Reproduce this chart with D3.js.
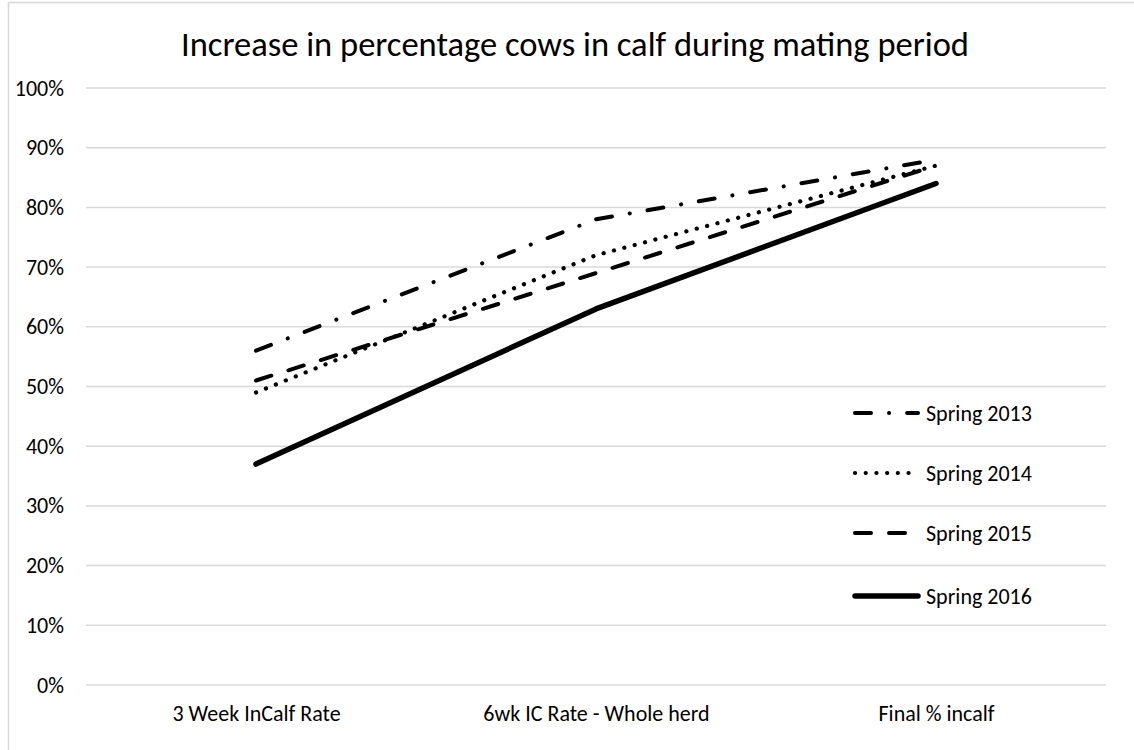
<!DOCTYPE html>
<html>
<head>
<meta charset="utf-8">
<script src="https://cdn.jsdelivr.net/npm/d3@7/dist/d3.min.js"></script>
<style>
  html, body { margin: 0; padding: 0; background: #fff; }
  svg { display: block; }
  text { font-family: Carlito, Lato, "Open Sans", sans-serif; fill: #000; }
</style>
</head>
<body>
<svg id="chart" width="1134" height="750"></svg>
<script>
// Stages of the mating period
const categories = ["3 Week InCalf Rate", "6wk IC Rate - Whole herd", "Final % incalf"];

// Percentage of cows in calf at each stage
const spring2013 = [56, 78, 88];
const spring2014 = [49, 72, 87];
const spring2015 = [51, 69, 87];
const spring2016 = [37, 63, 84];

const seriesNames = ["Spring 2013", "Spring 2014", "Spring 2015", "Spring 2016"];
const yTicks = [0, 10, 20, 30, 40, 50, 60, 70, 80, 90, 100];

const series = [
  { name: seriesNames[0], values: spring2013, width: 4, cap: "round", dash: "16 18 0.1 18" },
  { name: seriesNames[1], values: spring2014, width: 4.2, cap: "round", dash: "0.1 10.6" },
  { name: seriesNames[2], values: spring2015, width: 4, cap: "round", dash: "16 18" },
  { name: seriesNames[3], values: spring2016, width: 5.5, cap: "round", dash: null }
];

const labelFont = "Carlito, Lato, 'Open Sans', sans-serif";
const svg = d3.select("#chart");

// Chart frame
svg.append("rect")
  .attr("x", 8.5).attr("y", 2.5)
  .attr("width", 1200).attr("height", 800)
  .attr("fill", "none").attr("stroke", "#d9d9d9").attr("stroke-width", 1.5);

const plot = { left: 86, right: 1106, top: 88, bottom: 685 };

const x = d3.scalePoint().domain(categories).range([plot.left, plot.right]).padding(0.5);
const y = d3.scaleLinear().domain([0, 100]).range([plot.bottom, plot.top]);

// Title
svg.append("text")
  .attr("x", 575).attr("y", 56)
  .attr("text-anchor", "middle")
  .attr("font-size", 34.5)
  .text("Increase in percentage cows in calf during mating period");

// Horizontal gridlines
svg.append("g")
  .selectAll("line")
  .data(yTicks)
  .join("line")
  .attr("x1", plot.left).attr("x2", plot.right)
  .attr("y1", d => y(d)).attr("y2", d => y(d))
  .attr("stroke", "#d9d9d9").attr("stroke-width", 1.5);

// Y axis labels
const yAxis = d3.axisLeft(y).tickValues(yTicks).tickFormat(d => d + "%").tickSize(0).tickPadding(0);
svg.append("g")
  .attr("transform", `translate(${plot.left - 22},0)`)
  .call(yAxis)
  .call(g => g.select(".domain").remove())
  .call(g => g.selectAll("text").attr("font-size", 22).attr("fill", "#000")
    .style("font-family", labelFont));

// X axis labels
const xAxis = d3.axisBottom(x).tickSize(0).tickPadding(0);
svg.append("g")
  .attr("transform", `translate(0,${plot.bottom + 20})`)
  .call(xAxis)
  .call(g => g.select(".domain").remove())
  .call(g => g.selectAll("text").attr("font-size", 22).attr("fill", "#000")
    .style("font-family", labelFont));

// Series lines
const line = d3.line()
  .x((d, i) => x(categories[i]))
  .y(d => y(d));

svg.append("g")
  .selectAll("path")
  .data(series)
  .join("path")
  .attr("d", d => line(d.values))
  .attr("fill", "none")
  .attr("stroke", "#000")
  .attr("stroke-width", d => d.width)
  .attr("stroke-linecap", d => d.cap)
  .attr("stroke-linejoin", "round")
  .attr("stroke-dasharray", d => d.dash);

// Legend
const legend = svg.append("g");
const legendRows = [413, 473, 533, 596];
series.forEach((s, i) => {
  const row = legend.append("g").attr("transform", `translate(0,${legendRows[i]})`);
  row.append("line")
    .attr("x1", 855).attr("x2", 918)
    .attr("y1", 0).attr("y2", 0)
    .attr("stroke", "#000")
    .attr("stroke-width", s.width)
    .attr("stroke-linecap", s.cap)
    .attr("stroke-dasharray", s.dash);
  row.append("text")
    .attr("x", 926).attr("y", 0)
    .attr("dy", "0.35em")
    .attr("font-size", 22)
    .text(s.name);
});
</script>
</body>
</html>
